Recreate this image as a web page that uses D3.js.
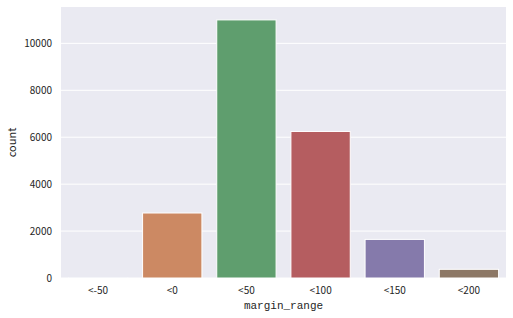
<!DOCTYPE html>
<html lang="en">
<head>
	<meta charset="UTF-8">
	<title>margin_range count</title>
	<script type="text/javascript" src="https://cdn.jsdelivr.net/npm/d3@7"></script>
	<style>
		body { margin: 0; background: #fff; }
		svg text { font-family: "Noto Sans CJK SC", "DejaVu Sans"; fill: #262626; }
		.xlabel { font-family: "Liberation Mono", "DejaVu Sans Mono"; }
	</style>
</head>
<body>
<div id="viz"></div>
<script type="text/javascript">
	var categories = ['<-50', '<0', '<50', '<100', '<150', '<200'];
	var counts = [5, 2770, 11000, 6245, 1645, 370];
	var yTicks = [0, 2000, 4000, 6000, 8000, 10000];
	var colors = ['#5975a4', '#cc8963', '#5f9e6e', '#b55d60', '#857aab', '#8d7866'];

	var margin = {top: 7, left: 61, bottom: 40, right: 7};
	var width = 513 - margin.left - margin.right;
	var height = 318 - margin.top - margin.bottom;

	var svg = d3.select('#viz')
		.append('svg')
		.attr('width', 513)
		.attr('height', 318);

	var g = svg.append('g')
		.attr('transform', 'translate(' + margin.left + ',' + margin.top + ')');

	var x = d3.scaleBand()
		.domain(categories)
		.range([0, width])
		.paddingInner(0.2)
		.paddingOuter(0.1);

	var y = d3.scaleLinear()
		.domain([0, d3.max(counts) * 1.05])
		.range([height, 0]);

	g.append('rect')
		.attr('width', width)
		.attr('height', height)
		.attr('fill', '#eaeaf2');

	// grid
	g.selectAll('.hgrid')
		.data(yTicks)
		.enter().append('line')
		.attr('x1', 0)
		.attr('x2', width)
		.attr('y1', function (d) { return y(d); })
		.attr('y2', function (d) { return y(d); })
		.attr('stroke', '#fff')
		.attr('stroke-width', 1);

	g.selectAll('.bar')
		.data(counts)
		.enter().append('rect')
		.attr('class', 'bar')
		.attr('x', function (d, i) { return x(categories[i]); })
		.attr('width', x.bandwidth())
		.attr('y', function (d) { return y(d); })
		.attr('height', function (d) { return height - y(d); })
		.attr('fill', function (d, i) { return colors[i]; })
		.attr('stroke', '#fff')
		.attr('stroke-width', 1);

	var yAxis = d3.axisLeft(y).tickValues(yTicks).tickFormat(d3.format('d')).tickSize(0).tickPadding(9);
	var xAxis = d3.axisBottom(x).tickSize(0).tickPadding(9);

	var gy = g.append('g').call(yAxis);
	var gx = g.append('g').attr('transform', 'translate(0,' + height + ')').call(xAxis);
	gy.select('.domain').remove();
	gx.select('.domain').remove();
	gy.selectAll('text').style('font-size', '10px');
	gx.selectAll('text').style('font-size', '10px');

	svg.append('text')
		.attr('transform', 'translate(16,' + (margin.top + height / 2) + ') rotate(-90)')
		.attr('text-anchor', 'middle')
		.style('font-size', '11px')
		.text('count');

	svg.append('text')
		.attr('class', 'xlabel')
		.attr('x', margin.left + width / 2)
		.attr('y', 309)
		.attr('text-anchor', 'middle')
		.style('font-size', '11px')
		.text('margin_range');
</script>
</body>
</html>
